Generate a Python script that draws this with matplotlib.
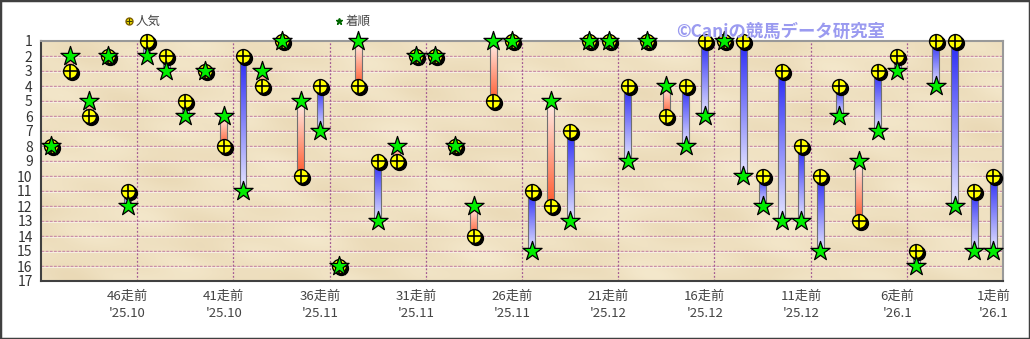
import matplotlib
matplotlib.use("Agg")
import matplotlib.pyplot as plt
import matplotlib.transforms as mtransforms
from matplotlib.colors import LinearSegmentedColormap
from matplotlib.patches import Rectangle
import numpy as np

plt.rcParams["font.family"] = ["Noto Sans CJK JP", "DejaVu Sans"]

# races from 50走前 (left) to 1走前 (right)
races_ago = list(range(50, 0, -1))
popularity = [8, 3, 6, 2, 11, 1, 2, 5, 3, 8,
              2, 4, 1, 10, 4, 16, 4, 9, 9, 2,
              2, 8, 14, 5, 1, 11, 12, 7, 1, 1,
              4, 1, 6, 4, 1, 1, 1, 10, 3, 8,
              10, 4, 13, 3, 2, 15, 1, 1, 11, 10]
finish = [8, 2, 5, 2, 12, 2, 3, 6, 3, 6,
          11, 3, 1, 5, 7, 16, 1, 13, 8, 2,
          2, 8, 12, 1, 1, 15, 5, 13, 1, 1,
          9, 1, 4, 8, 6, 1, 10, 12, 13, 13,
          15, 6, 9, 7, 3, 16, 4, 12, 15, 15]
tick_races = [46, 41, 36, 31, 26, 21, 16, 11, 6, 1]
tick_dates = ["'25.10", "'25.10", "'25.11", "'25.11", "'25.11",
              "'25.12", "'25.12", "'25.12", "'26.1", "'26.1"]

x = np.arange(len(races_ago))

fig = plt.figure(figsize=(10.3, 3.39), dpi=100)
ax = fig.add_axes([41 / 1030, 58 / 339, 962 / 1030, 240 / 339])
ax.set_xlim(-0.5, len(races_ago) - 0.5)
ax.set_ylim(17, 1)
ax.set_facecolor("#efdfbf")

# faint parchment shading
shade = LinearSegmentedColormap.from_list("parch", ["#f4e8cc", "#ead9b6"])
xx, yy = np.meshgrid(np.linspace(0, 1, 300), np.linspace(0, 1, 80))
tex = (np.sin(xx * 31 + yy * 7) * np.cos(yy * 13 - xx * 5)
       + 0.6 * np.sin(xx * 67 - yy * 29) * np.sin(yy * 17 + xx * 11))
ax.imshow(tex, extent=(-0.5, len(races_ago) - 0.5, 17, 1), cmap=shade, aspect="auto",
          zorder=0, interpolation="bicubic")

for yv in range(2, 17):
    ax.axhline(yv, color="#c88aa6", lw=1.0, ls=(0, (2, 1)), zorder=1)
    ax.axhline(yv + 0.07, color="#f6eee0", lw=0.8, zorder=1)
for xv in np.arange(4.5, len(races_ago) - 1, 5):
    ax.axvline(xv, color="#a45a94", lw=0.9, ls=(0, (1.5, 1.5)), zorder=1)

blue = LinearSegmentedColormap.from_list("b", ["#2a2af5", "#e6e6ff"])
red = LinearSegmentedColormap.from_list("r", ["#ff5a2e", "#fff0ea"])
grad = np.linspace(0, 1, 100).reshape(-1, 1)
bw = 0.18
for xi, p, f in zip(x, popularity, finish):
    if p == f:
        continue
    top, bot = min(p, f), max(p, f)
    if f > p:
        img, cmap = grad, blue          # dark at popularity end (top)
    else:
        img, cmap = grad[::-1], red     # dark at popularity end (bottom)
    ax.imshow(img, extent=(xi - bw, xi + bw, bot, top), cmap=cmap, aspect="auto",
              zorder=2, interpolation="bilinear")
    ax.add_patch(Rectangle((xi - bw, top), 2 * bw, bot - top, fill=False,
                           ec="#707070", lw=0.8, zorder=2.1))

shadow = mtransforms.offset_copy(ax.transData, fig=fig, x=2, y=-2, units="dots")
ax.scatter(x, popularity, s=100, c="black", transform=shadow, zorder=3, clip_on=False)
ax.scatter(x, popularity, s=100, c="#ffff00", edgecolors="black", linewidths=1.0, zorder=4, clip_on=False)
ax.scatter(x, popularity, s=100, marker="+", c="black", linewidths=1.2, zorder=5, clip_on=False)
ax.scatter(x, finish, s=210, marker="*", c="#00ee00", edgecolors="black", linewidths=0.9,
           zorder=6, clip_on=False)

ax.set_yticks(range(1, 18))
ax.set_yticklabels([str(v) for v in range(1, 18)], fontsize=10, color="#333333")
tick_pos = [races_ago.index(r) for r in tick_races]
ax.set_xticks(tick_pos)
ax.set_xticklabels([f"{r}走前\n{d}" for r, d in zip(tick_races, tick_dates)],
                   fontsize=9.5, color="#444444", linespacing=1.45)
ax.tick_params(length=0, pad=6)

for side in ("left", "bottom"):
    ax.spines[side].set_color("#404040")
    ax.spines[side].set_linewidth(1.5)
for side in ("top", "right"):
    ax.spines[side].set_color("#999999")
    ax.spines[side].set_linewidth(1.5)

# legend
fig.lines.append(plt.Line2D([129 / 1030], [1 - 21 / 339], marker="o", color="#f0e000",
                            markeredgecolor="#806000", markersize=5, transform=fig.transFigure))
fig.lines.append(plt.Line2D([129 / 1030], [1 - 21 / 339], marker="+", color="#404000",
                            markersize=4, markeredgewidth=0.8, transform=fig.transFigure))
fig.text(136 / 1030, 1 - 21 / 339, "人気", fontsize=9, color="#444444", va="center")
fig.lines.append(plt.Line2D([339 / 1030], [1 - 21 / 339], marker="*", color="#006600",
                            markersize=5, transform=fig.transFigure))
fig.text(346 / 1030, 1 - 21 / 339, "着順", fontsize=9, color="#444444", va="center")

fig.text(676 / 1030, 1 - 32 / 339, "©Caniの競馬データ研究室", fontsize=12.5, color="#9a9af0",
         va="center", ha="left", fontweight="bold")

fig.patches.append(Rectangle((0, 0), 1, 1, transform=fig.transFigure, fill=False,
                             ec="#404040", lw=2.5))

fig.savefig("out.png", dpi=100)
